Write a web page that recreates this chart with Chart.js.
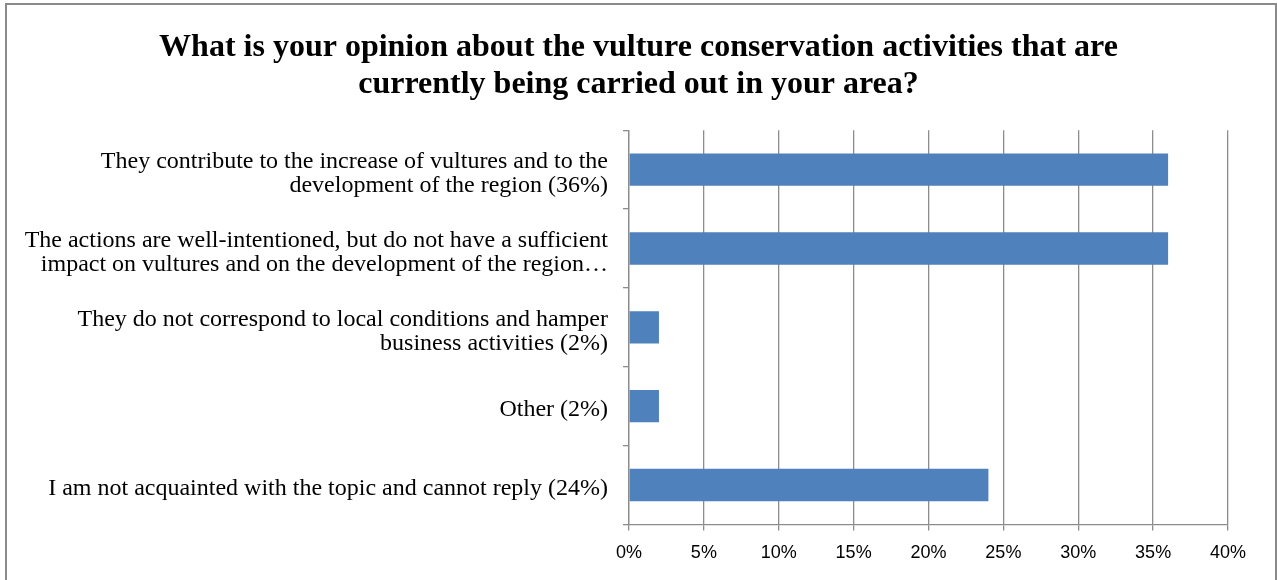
<!DOCTYPE html>
<html>
<head>
<meta charset="utf-8">
<script src="https://cdn.jsdelivr.net/npm/chart.js@4/dist/chart.umd.min.js"></script>
<style>
  html, body { margin: 0; padding: 0; background: #fff; overflow: hidden; }
  #wrap { position: relative; width: 1277px; height: 580px; }
  #frame {
    position: absolute; left: 5px; top: 3px; width: 1268px; height: 600px;
    border: 2px solid #8a8a8a; border-bottom: none; pointer-events: none;
  }
</style>
</head>
<body>
<div id="wrap">
  <canvas id="opinionChart" width="1277" height="580"></canvas>
  <div id="frame"></div>
</div>
<script>
// survey answers, top to bottom
const answers = [
  ['They contribute to the increase of vultures and to the', 'development of the region (36%)'],
  ['The actions are well-intentioned, but do not have a sufficient', 'impact on vultures and on the development of the region…'],
  ['They do not correspond to local conditions and hamper', 'business activities (2%)'],
  ['Other (2%)'],
  ['I am not acquainted with the topic and cannot reply (24%)']
];
const shares = [36, 36, 2, 2, 24];
const xTicks = [0, 5, 10, 15, 20, 25, 30, 35, 40];

const gridGray = '#8c8c8c';

const ctx = document.getElementById('opinionChart').getContext('2d');
new Chart(ctx, {
  type: 'bar',
  data: {
    labels: answers,
    datasets: [{
      data: shares,
      backgroundColor: '#4F81BD',
      borderWidth: 0,
      barPercentage: 0.41,
      categoryPercentage: 1
    }]
  },
  options: {
    indexAxis: 'y',
    responsive: false,
    animation: false,
    layout: { padding: { left: 0, right: 0, top: 0, bottom: 4 } },
    plugins: {
      legend: { display: false },
      tooltip: { enabled: false },
      title: {
        display: true,
        text: ['What is your opinion about the vulture conservation activities that are',
               'currently being carried out in your area?'],
        color: '#000',
        font: { family: "'Liberation Serif', 'Times New Roman', serif", size: 32, weight: 'bold', lineHeight: 1.16 },
        padding: { top: 29, bottom: 27 }
      }
    },
    scales: {
      x: {
        min: 0,
        max: 40,
        afterBuildTicks: s => { s.ticks = xTicks.map(v => ({ value: v })); },
        ticks: {
          callback: v => v + '%',
          color: '#000',
          padding: 12,
          maxRotation: 0,
          font: { family: "'Liberation Sans', Arial, sans-serif", size: 18 }
        },
        grid: { color: gridGray, lineWidth: 1.3, tickLength: 6 },
        border: { color: gridGray, width: 1.3 }
      },
      y: {
        afterFit: s => { s.width = 629; },
        ticks: {
          color: '#000',
          padding: 15,
          labelOffset: 4,
          font: { family: "'Liberation Serif', 'Times New Roman', serif", size: 24, lineHeight: 1.0 }
        },
        grid: { drawOnChartArea: false, color: gridGray, lineWidth: 1.3, tickLength: 6 },
        border: { color: gridGray, width: 1.3 }
      },
      // empty right-hand gutter so the title stays centred on the whole frame
      gutter: {
        type: 'linear',
        position: 'right',
        afterFit: s => { s.width = 49; },
        ticks: { display: false },
        grid: { display: false },
        border: { display: false }
      }
    }
  }
});
</script>
</body>
</html>
